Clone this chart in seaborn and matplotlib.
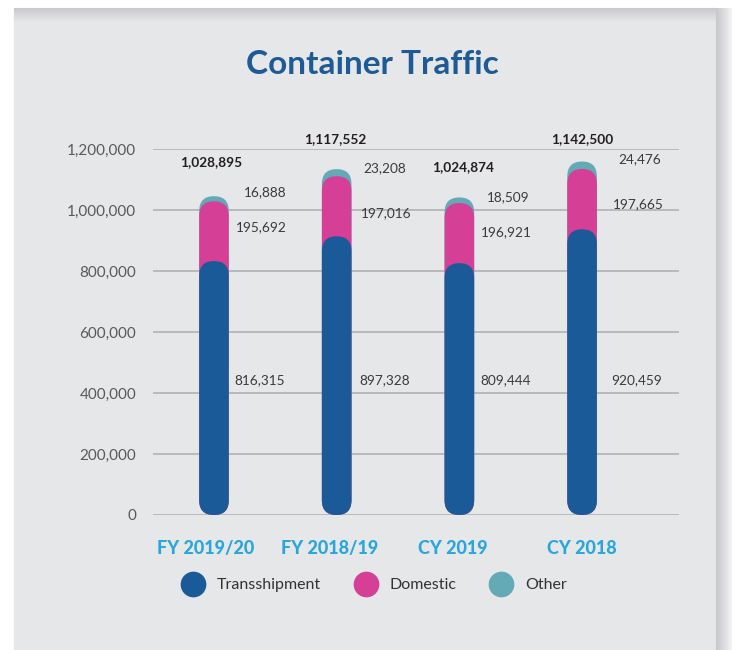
import numpy as np
import pandas as pd
import matplotlib
matplotlib.use("Agg")
import matplotlib.pyplot as plt
import matplotlib.transforms as mtransforms
import seaborn as sns
from matplotlib.patches import FancyBboxPatch, Rectangle
from matplotlib.lines import Line2D

# ---- data ----
periods = ["FY 2019/20", "FY 2018/19", "CY 2019", "CY 2018"]
transshipment = [816315, 897328, 809444, 920459]
domestic = [195692, 197016, 196921, 197665]
other = [16888, 23208, 18509, 24476]
totals = [1028895, 1117552, 1024874, 1142500]

# label placement (x offset from bar centre, y in data units)
trans_lbl_dx = [0.168, 0.189, 0.171, 0.24]
trans_lbl_y = [442600, 442600, 442600, 442600]
dom_lbl_dx = [0.179, 0.198, 0.177, 0.25]
dom_lbl_y = [944300, 989200, 928900, 1018700]
oth_lbl_dx = [0.244, 0.217, 0.226, 0.296]
oth_lbl_y = [1060000, 1136700, 1043600, 1166200]
tot_lbl_dx = [-0.02, -0.01, 0.027, 0.0]
tot_lbl_y = [1158400, 1231800, 1142000, 1232800]
xlbl_shift_px = [-8, -7, -7, 0]

BLUE = "#1b5a98"
PINK = "#d63f96"
TEAL = "#63a9b6"
PANEL = "#e6e7e9"
FONT = "Lato"

df = pd.DataFrame({"period": periods, "trans": transshipment,
                   "dom": domestic, "oth": other})
df["lvl_dom"] = df["trans"] + df["dom"]
df["lvl_oth"] = df["lvl_dom"] + df["oth"]

sns.set_style("white")
plt.rcParams["font.family"] = [FONT, "DejaVu Sans"]

W, H = 739, 650
fig = plt.figure(figsize=(W / 100, H / 100), dpi=100, facecolor="white")

# panel background + soft shadows
fig.patches.append(Rectangle((14 / W, 0), (716 - 14) / W, (H - 8) / H,
                             transform=fig.transFigure, color=PANEL, zorder=-10))
sh = fig.add_axes([716 / W, 0, 16 / W, (H - 8) / H], zorder=-9)
sh.imshow(np.linspace(0, 1, 32).reshape(1, -1), aspect="auto",
          cmap=sns.blend_palette(["#c8c8ca", "#dcdcde", "#f4f4f4"], as_cmap=True))
sh.axis("off")
sh2 = fig.add_axes([14 / W, (H - 22) / H, (716 - 14) / W, 14 / H], zorder=-9)
sh2.imshow(np.linspace(0, 1, 32).reshape(-1, 1), aspect="auto",
           cmap=sns.blend_palette(["#c9c9cb", PANEL], as_cmap=True))
sh2.axis("off")

ax = fig.add_axes([153 / W, (H - 515) / H, (679 - 153) / W, (515 - 149) / H])
ax.set_facecolor("none")

bw = 0.241
for col, c in [("lvl_oth", TEAL), ("lvl_dom", PINK), ("trans", BLUE)]:
    sns.barplot(data=df, x="period", y=col, color=c, width=bw,
                saturation=1, ax=ax, zorder=3)

ax.set_xlim(-0.497, 3.79)
ax.set_ylim(0, 1200000)

# turn the rectangles into capsules (caps poke ~5px past the value)
fig.canvas.draw()
p0 = ax.transData.transform((0, 0))
p1 = ax.transData.transform((1, 1))
ypp = 1 / (p1[1] - p0[1])
aspect = ypp / (1 / (p1[0] - p0[0]))
rects = list(ax.patches)
for r in rects:
    x, y = r.get_x(), r.get_y()
    w, h = r.get_width(), r.get_height()
    cap = FancyBboxPatch((x, y), w, h + 5 * ypp,
                         boxstyle=f"round,pad=0,rounding_size={w / 2}",
                         mutation_aspect=aspect, facecolor=r.get_facecolor(),
                         edgecolor="none", zorder=r.get_zorder())
    r.remove()
    ax.add_patch(cap)

# grid
ax.set_yticks(np.arange(0, 1200001, 200000))
ax.yaxis.grid(True, color="#b1b2b4", linewidth=1.2, zorder=0)
ax.set_axisbelow(True)
sns.despine(ax=ax, left=True, bottom=True)
ax.set_yticklabels([f"{v:,}" for v in range(0, 1200001, 200000)],
                   fontsize=11, color="#58595b")
ax.tick_params(axis="y", length=0, pad=12)
ax.tick_params(axis="x", length=0, pad=18)
ax.set_xticks(range(len(periods)))
ax.set_xticklabels(periods, fontsize=13, fontweight=900, color="#29a6df")
for t, s in zip(ax.get_xticklabels(), xlbl_shift_px):
    t.set_transform(t.get_transform() +
                    mtransforms.ScaledTranslation(s / 100, 0, fig.dpi_scale_trans))
ax.set_xlabel("")
ax.set_ylabel("")

lbl = dict(fontsize=9.8, color="#3a3a3a", va="center", ha="left", clip_on=False)
for i in range(len(periods)):
    ax.text(i + trans_lbl_dx[i], trans_lbl_y[i], f"{transshipment[i]:,}", **lbl)
    ax.text(i + dom_lbl_dx[i], dom_lbl_y[i], f"{domestic[i]:,}", **lbl)
    ax.text(i + oth_lbl_dx[i], oth_lbl_y[i], f"{other[i]:,}", **lbl)
    ax.text(i + tot_lbl_dx[i], tot_lbl_y[i], f"{totals[i]:,}", fontsize=9.8,
            fontweight="bold", color="#231f20", ha="center", va="center",
            clip_on=False)

fig.text(372 / W, 1 - 64 / H, "Container Traffic", fontsize=24,
         fontweight="bold", color="#1d5a96", ha="center", va="center")

handles = [Line2D([], [], marker="o", linestyle="none", markersize=18.5,
                  markerfacecolor=c, markeredgecolor="none")
           for c in (BLUE, PINK, TEAL)]
fig.legend(handles, ["Transshipment", "Domestic", "Other"], ncol=3,
           loc="center", bbox_to_anchor=(376 / W, 1 - 585 / H), frameon=False,
           fontsize=11.5, handlelength=1.0, handletextpad=1.0,
           columnspacing=2.3, labelcolor="#333333")

fig.savefig("out.png", dpi=100, facecolor="white")
